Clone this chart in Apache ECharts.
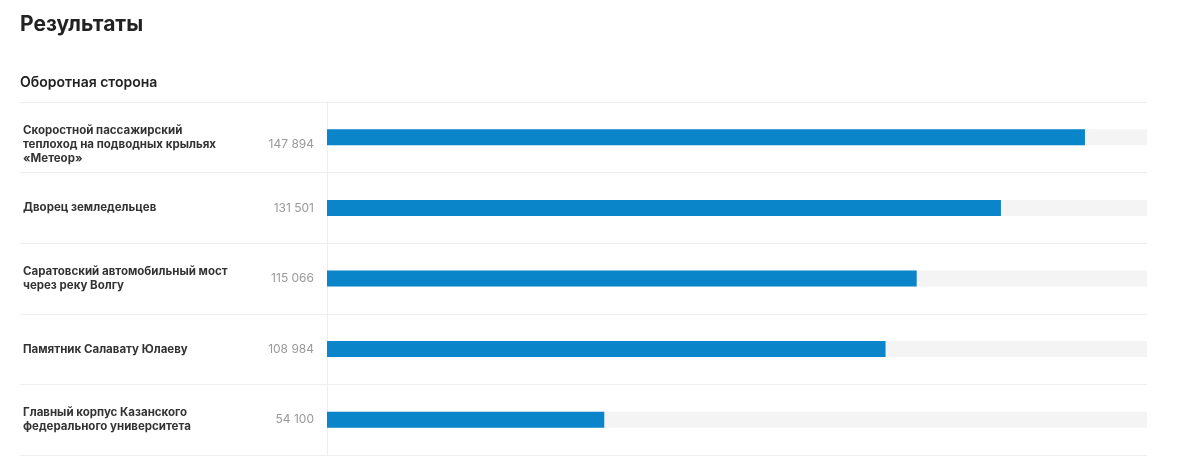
<!DOCTYPE html>
<html>
<head>
<meta charset="utf-8">
<script src="https://cdn.jsdelivr.net/npm/echarts@6/dist/echarts.min.js"></script>
<style>
  html, body { margin: 0; padding: 0; background: #fff; }
  #chart { width: 1200px; height: 458px; }
</style>
</head>
<body>
<div id="chart"></div>
<script>
  // категории и значения
  const categories = [
    'Скоростной пассажирский\nтеплоход на подводных крыльях\n«Метеор»',
    'Дворец земледельцев',
    'Саратовский автомобильный мост\nчерез реку Волгу',
    'Памятник Салавату Юлаеву',
    'Главный корпус Казанского\nфедерального университета'
  ]
  const votes = [147894, 131501, 115066, 108984, 54100]
  const scaleMax = 160000

  const fmt = v => String(v).replace(/\B(?=(\d{3})+(?!\d))/g, ' ')

  // трёхстрочные подписи в оригинале сидят на полстроки ниже центра
  const isTall = c => c.split('\n').length > 2
  const nameLabels = categories.map(c => isTall(c) ? '\n' + c : c)
  const valueLabels = votes.map((v, i) => isTall(categories[i]) ? '\n' + fmt(v) : fmt(v))

  const chart = echarts.init(document.getElementById('chart'))
  chart.setOption({
    animation: false,
    textStyle: { fontFamily: 'Inter, "Noto Sans", sans-serif' },
    title: [{
      text: 'Результаты',
      left: 20,
      top: 14,
      padding: 0,
      textStyle: { fontSize: 21, fontWeight: 700, color: '#222' }
    }, {
      text: 'Оборотная сторона',
      left: 20,
      top: 76,
      padding: 0,
      textStyle: { fontSize: 14, fontWeight: 600, color: '#222' }
    }],
    grid: {
      left: 327,
      right: 53,
      top: 102,
      bottom: 3,
      outerBoundsMode: 'none'
    },
    xAxis: {
      type: 'value',
      min: 0,
      max: scaleMax,
      show: false
    },
    yAxis: [{
      type: 'category',
      inverse: true,
      data: nameLabels,
      axisLine: { show: true, lineStyle: { color: '#eeeeee' } },
      axisTick: { show: true, length: 307, lineStyle: { color: '#eeeeee' } },
      splitLine: { show: true, lineStyle: { color: '#eeeeee' } },
      axisLabel: {
        align: 'left',
        margin: 304,
        fontSize: 11.5,
        fontWeight: 'bold',
        lineHeight: 14,
        color: '#333'
      }
    }, {
      type: 'category',
      position: 'left',
      inverse: true,
      data: valueLabels,
      axisLine: { show: false },
      axisTick: { show: false },
      splitLine: { show: false },
      axisLabel: {
        margin: 13,
        fontSize: 12,
        lineHeight: 14,
        color: '#999'
      }
    }],
    series: [{
      type: 'bar',
      data: votes,
      barWidth: 16,
      showBackground: true,
      backgroundStyle: { color: '#f4f4f4' },
      itemStyle: { color: '#0a85c9' }
    }]
  })
</script>
</body>
</html>
